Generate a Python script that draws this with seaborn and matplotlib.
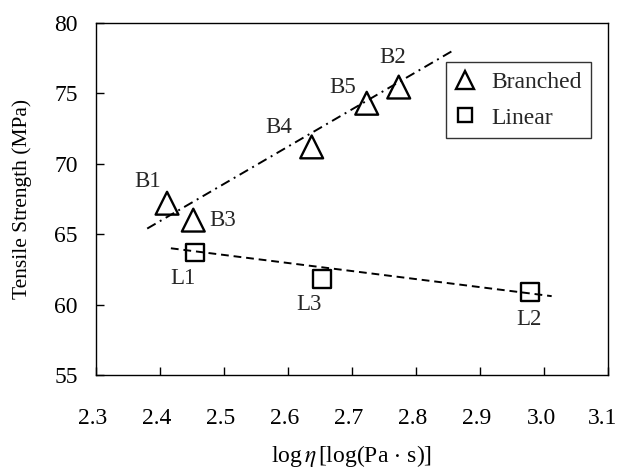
import numpy as np
import pandas as pd
import matplotlib
matplotlib.use("Agg")
import matplotlib.pyplot as plt
import matplotlib.transforms as mtransforms
import seaborn as sns
from matplotlib.lines import Line2D

# Branched samples
branched_names = ["B1", "B3", "B4", "B5", "B2"]
branched_logeta = [2.411, 2.452, 2.637, 2.723, 2.773]
branched_ts = [67.2, 66.0, 71.2, 74.3, 75.45]

# Linear samples
linear_names = ["L1", "L3", "L2"]
linear_logeta = [2.455, 2.653, 2.978]
linear_ts = [63.7, 61.8, 60.9]

# Trend lines (end points)
branched_fit_x = [2.38, 2.86]
branched_fit_y = [65.4, 78.1]
linear_fit_x = [2.417, 3.012]
linear_fit_y = [64.0, 60.6]

x_ticks = [2.3, 2.4, 2.5, 2.6, 2.7, 2.8, 2.9, 3.0, 3.1]
y_ticks = [55, 60, 65, 70, 75, 80]

# label offsets (points) relative to each marker
branched_offsets = [(-14, 16), (21, 0), (-24, 14), (-17, 11), (-4, 21)]
linear_offsets = [(-9, -19), (-9, -18), (-1, -20)]

sns.set_theme(style="white")
plt.rcParams["font.family"] = ["Liberation Serif", "DejaVu Serif"]
plt.rcParams["mathtext.fontset"] = "stix"

df_b = pd.DataFrame({"x": branched_logeta, "y": branched_ts, "name": branched_names})
df_l = pd.DataFrame({"x": linear_logeta, "y": linear_ts, "name": linear_names})
fit_b = pd.DataFrame({"x": branched_fit_x, "y": branched_fit_y})
fit_l = pd.DataFrame({"x": linear_fit_x, "y": linear_fit_y})

fig = plt.figure(figsize=(6.19, 4.70), dpi=100)
ax = fig.add_axes([96 / 619, 1 - 375 / 470, 512 / 619, 352 / 470])

# trend lines
sns.lineplot(data=fit_b, x="x", y="y", color="black", lw=1.4, ax=ax,
             linestyle=(0, (5, 2.5, 1, 2.5)))
sns.lineplot(data=fit_l, x="x", y="y", color="black", lw=1.4, ax=ax,
             linestyle=(0, (4, 2.5)))

sns.scatterplot(data=df_b, x="x", y="y", marker="^", s=270, facecolors="none",
                edgecolor="black", linewidth=1.7, ax=ax, zorder=3)
sns.scatterplot(data=df_l, x="x", y="y", marker="s", s=160, facecolors="none",
                edgecolor="black", linewidth=1.7, ax=ax, zorder=3)

for name, x, y, off in zip(branched_names, branched_logeta, branched_ts, branched_offsets):
    ax.annotate(name, (x, y), xytext=off, textcoords="offset points",
                ha="center", va="center", fontsize=16.5)
for name, x, y, off in zip(linear_names, linear_logeta, linear_ts, linear_offsets):
    ax.annotate(name, (x, y), xytext=off, textcoords="offset points",
                ha="center", va="center", fontsize=16.5)

ax.set_xlim(2.3, 3.1)
ax.set_ylim(55, 80)
ax.set_xticks(x_ticks)
ax.set_xticklabels([f"{v:.1f}" for v in x_ticks])
ax.set_yticks(y_ticks)
ax.set_yticklabels([str(v) for v in y_ticks])
ax.tick_params(axis="x", direction="in", length=6, width=1, pad=24, labelsize=17, colors="black")
ax.tick_params(axis="y", direction="in", length=6, width=1, pad=13, labelsize=17, colors="black")
ax.tick_params(bottom=True, left=True, top=False, right=False)

# nudge x tick labels slightly left
shift = mtransforms.ScaledTranslation(-3 / 100, 0, fig.dpi_scale_trans)
for i, lbl in enumerate(ax.get_xticklabels()):
    extra = -2 / 100 if i == len(x_ticks) - 1 else 0
    lbl.set_transform(lbl.get_transform() + shift +
                      mtransforms.ScaledTranslation(extra, 0, fig.dpi_scale_trans))

for side in ax.spines.values():
    side.set_color("black")
    side.set_linewidth(1.0)

ax.set_xlabel(r"log$\,\eta\,$[log(Pa$\,\cdot\,$s)]", fontsize=17, labelpad=10, color="black")
ax.set_ylabel("Tensile Strength (MPa)", fontsize=15.5, color="black")
ax.yaxis.set_label_coords(-0.125, 0.5)

handles = [
    Line2D([], [], marker="^", linestyle="none", markersize=13, markerfacecolor="none",
           markeredgecolor="black", markeredgewidth=1.7, label="Branched"),
    Line2D([], [], marker="s", linestyle="none", markersize=10, markerfacecolor="none",
           markeredgecolor="black", markeredgewidth=1.7, label="Linear"),
]
leg = ax.legend(handles=handles, loc="upper right", bbox_to_anchor=(0.967, 0.889),
                borderaxespad=0, fontsize=17, frameon=True, fancybox=False,
                handletextpad=0.7, borderpad=0.4, labelspacing=0.6, handlelength=0.8)
leg.get_frame().set_edgecolor("black")
leg.get_frame().set_linewidth(1.0)

fig.savefig("out.png", dpi=100)
